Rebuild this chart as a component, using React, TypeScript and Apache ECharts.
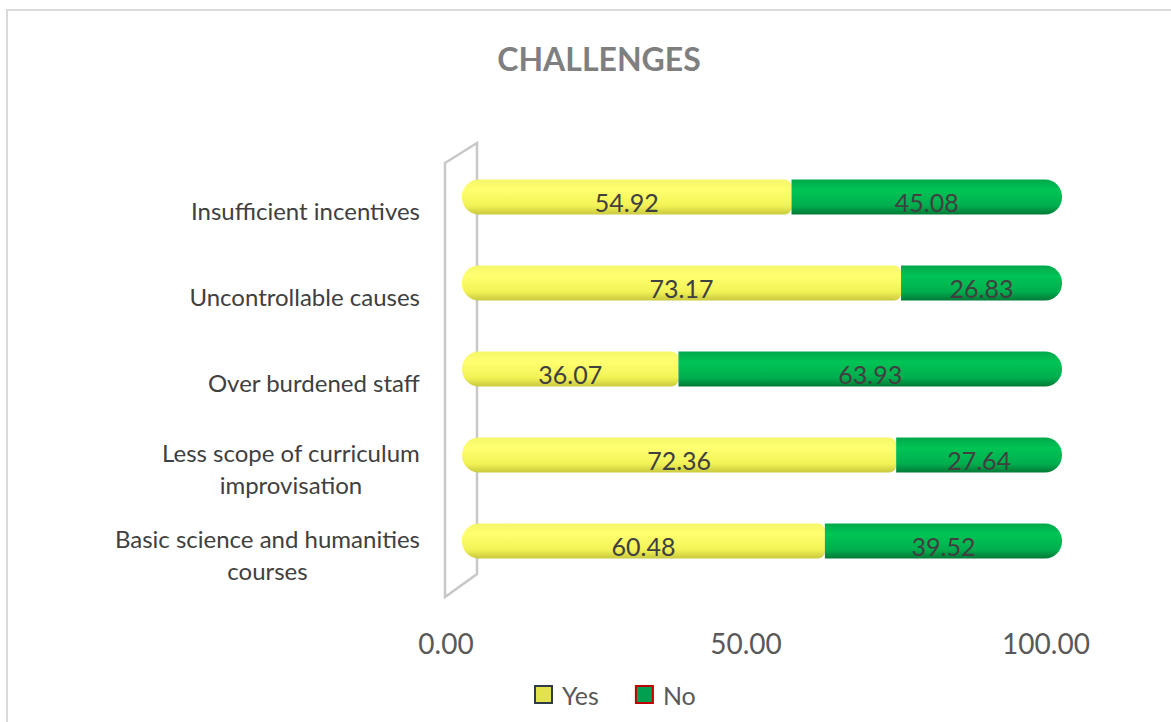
import React, { useEffect, useRef } from "react";
import * as echarts from "echarts";

const categories = [
  "Basic science and humanities\ncourses",
  "Less scope of curriculum\nimprovisation",
  "Over burdened staff",
  "Uncontrollable causes",
  "Insufficient incentives",
];
const yesValues = [60.48, 72.36, 36.07, 73.17, 54.92];
const noValues = [39.52, 27.64, 63.93, 26.83, 45.08];
const xTicks = { min: 0, max: 100, interval: 50 };

export default function App() {
  const ref = useRef<HTMLDivElement>(null);
  useEffect(() => {
    document.body.style.margin = "0";
    const chart = echarts.init(ref.current!, null, { renderer: "svg" });
    const font = "Lato, 'Open Sans', sans-serif";
    const yellow = new echarts.graphic.LinearGradient(0, 0, 0, 1, [
      { offset: 0, color: "#f6f66a" },
      { offset: 0.3, color: "#ffff70" },
      { offset: 0.75, color: "#f2f256" },
      { offset: 1, color: "#c9c93e" },
    ]);
    const green = new echarts.graphic.LinearGradient(0, 0, 0, 1, [
      { offset: 0, color: "#00a84a" },
      { offset: 0.3, color: "#00c455" },
      { offset: 0.75, color: "#00ae4e" },
      { offset: 1, color: "#007a36" },
    ]);
    const barLabel = {
      show: true,
      position: "inside",
      formatter: (p: any) => p.value.toFixed(2),
      fontFamily: font,
      fontSize: 25,
      color: "#404040",
      offset: [0, 5],
    };
    chart.setOption({
      animation: false,
      backgroundColor: "#ffffff",
      title: {
        text: "CHALLENGES",
        left: 594,
        textAlign: "center",
        top: 37,
        textStyle: { fontFamily: font, fontSize: 32, fontWeight: "bold", color: "#7f7f7f" },
      },
      graphic: [
        {
          type: "polyline",
          shape: { points: [[7, 730], [7, 10], [1180, 10]] },
          style: { stroke: "#d9d9d9", lineWidth: 2, fill: "none" },
          silent: true,
        },
        {
          type: "polygon",
          shape: { points: [[445, 163], [477, 143], [477, 574], [445, 597]] },
          style: { stroke: "#c8c8c8", lineWidth: 2.5, fill: "none" },
          silent: true,
          z: 0,
        },
      ],
      legend: {
        left: 529,
        top: 677,
        itemWidth: 17,
        itemHeight: 17,
        itemGap: 36,
        icon: "rect",
        textStyle: { fontFamily: font, fontSize: 25, color: "#595959", padding: [0, 0, 0, 5] },
        data: [
          { name: "Yes", itemStyle: { color: "#e2e24a", borderColor: "#2f3a4a", borderWidth: 2 } },
          { name: "No", itemStyle: { color: "#00a050", borderColor: "#c00000", borderWidth: 2 } },
        ],
      },
      grid: { left: 462, right: 109, top: 154, bottom: 138 },
      xAxis: {
        type: "value",
        min: xTicks.min,
        max: xTicks.max,
        interval: xTicks.interval,
        splitLine: { show: false },
        axisLine: { show: false },
        axisTick: { show: false },
        axisLabel: {
          formatter: (v: number) => v.toFixed(2),
          fontFamily: font,
          fontSize: 28,
          color: "#595959",
          margin: 45,
          padding: [0, 32, 0, 0],
        },
      },
      yAxis: {
        type: "category",
        data: categories,
        axisLine: { show: false },
        axisTick: { show: false },
        axisLabel: {
          align: "right",
          margin: 42,
          padding: [26, 0, 0, 0],
          formatter: (v: string) =>
            v
              .split("\n")
              .map((s) => "{c|" + s + "}")
              .join("\n"),
          rich: {
            c: { align: "center", fontFamily: font, fontSize: 24, color: "#404040", lineHeight: 32 },
          },
        },
      },
      series: [
        {
          name: "Yes",
          type: "bar",
          stack: "total",
          barWidth: 35,
          data: yesValues,
          itemStyle: { color: yellow, borderRadius: [17, 7, 7, 17] },
          label: barLabel,
          z: 3,
        },
        {
          name: "No",
          type: "bar",
          stack: "total",
          barWidth: 35,
          data: noValues,
          itemStyle: { color: green, borderRadius: [0, 17, 17, 0] },
          label: barLabel,
          z: 3,
        },
      ],
    });
    return () => chart.dispose();
  }, []);
  return <div ref={ref} style={{ width: 1171, height: 722 }} />;
}
